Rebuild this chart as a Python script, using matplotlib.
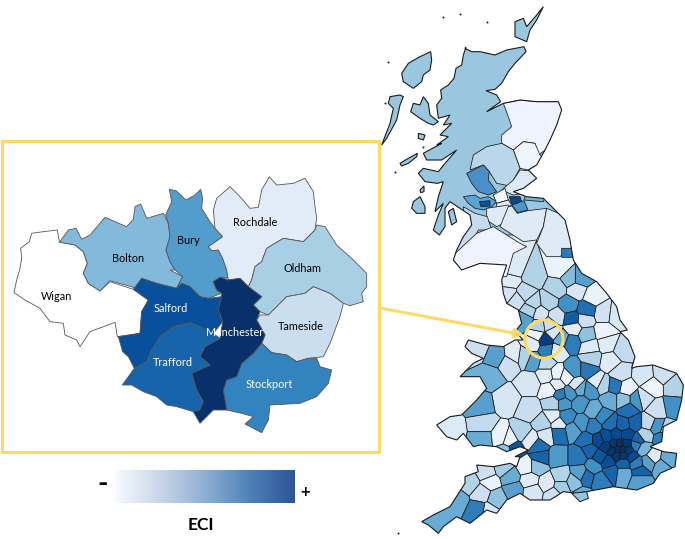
import numpy as np
import matplotlib
matplotlib.use("Agg")
import matplotlib.pyplot as plt
from matplotlib.patches import Polygon, Rectangle, Circle, FancyArrowPatch
from matplotlib.colors import LinearSegmentedColormap

plt.rcParams['font.family'] = ['Lato', 'DejaVu Sans']

def z1(p): return [(x/3, 130+y/3) for x, y in p]
def z2(p): return [(380+x/3, y/3) for x, y in p]
def z3(p): return [(390+x/3, 260+y/3) for x, y in p]
def zA(p): return [(380+x/3, 40+y/3) for x, y in p]
def zB(p): return [(400+x/3, 140+y/3) for x, y in p]

# ---------- Greater Manchester inset ----------
boroughs = ['Wigan','Bolton','Bury','Rochdale','Oldham','Tameside','Stockport','Manchester','Salford','Trafford']
borough_colors = ['#FFFFFF','#83B9DB','#529DCC','#E1ECF8','#A9CFE5','#CBDEF0','#3383BE','#08306B','#08509B','#1764AB']
borough_labels = [(57,297,'k'),(128,259,'k'),(188,241,'k'),(255,223,'k'),(303,268,'k'),(301,327,'k'),(269,385,'w'),(235,332,'w'),(171,309,'w'),(173,363,'w')]
borough_shapes = [
 [(178,335),(172,300),(130,305),(95,310),(88,335),(62,355),(65,385),(60,415),(50,450),(42,488),(75,510),(120,535),(150,575),(190,580),(195,615),(230,630),(240,650),(270,605),(345,577),(352,620),(420,610),(425,545),(445,510),(400,478),(330,455),(300,483),(265,460),(250,430),(262,400),(250,365),(225,345)],
 [(178,337),(205,300),(228,295),(245,328),(270,315),(315,262),(380,290),(400,268),(405,230),(422,222),(440,265),(490,250),(505,280),(510,320),(498,360),(510,395),(525,420),(510,420),(548,440),(530,475),(470,460),(425,445),(410,475),(330,452),(300,483),(265,460),(250,430),(262,400),(250,365),(225,345)],
 [(508,178),(528,182),(558,210),(585,195),(602,178),(608,205),(605,235),(630,275),(645,295),(668,320),(640,340),(625,350),(635,362),(655,360),(668,385),(680,420),(685,445),(660,442),(640,455),(650,480),(665,490),(625,505),(600,500),(570,470),(545,460),(530,475),(548,440),(525,420),(510,395),(498,360),(510,320),(505,280),(497,255),(515,215)],
 [(650,205),(690,170),(720,200),(750,235),(775,232),(785,180),(808,140),(830,165),(880,160),(915,145),(940,185),(945,230),(950,265),(945,300),(910,335),(850,325),(800,355),(785,395),(765,410),(755,450),(745,470),(720,445),(685,450),(680,420),(668,385),(655,360),(635,362),(625,350),(640,340),(668,320),(645,295),(640,240)],
 [(950,285),(975,290),(1010,345),(1060,390),(1100,430),(1100,470),(1085,490),(1090,515),(1050,527),(1030,520),(990,490),(940,470),(915,490),(860,500),(820,540),(805,555),(780,545),(760,525),(785,500),(745,470),(755,450),(765,410),(785,395),(800,355),(850,325),(910,335),(945,300)],
 [(780,555),(805,555),(820,540),(860,500),(915,490),(940,470),(990,490),(1030,520),(1020,560),(1005,600),(990,640),(970,680),(925,685),(890,695),(860,675),(815,668),(785,640),(795,615),(770,570)],
 [(785,640),(815,668),(860,675),(890,695),(925,685),(950,685),(960,710),(995,720),(985,760),(950,800),(900,820),(810,825),(805,870),(785,908),(760,895),(735,882),(760,860),(725,850),(680,840),(670,780),(680,750),(710,740),(725,700),(760,670)],
 [(640,455),(660,442),(685,450),(720,445),(745,470),(785,500),(760,525),(780,545),(770,570),(795,615),(785,640),(760,670),(725,700),(710,740),(680,750),(670,780),(680,840),(640,840),(600,880),(580,845),(610,815),(590,780),(575,730),(630,705),(600,680),(615,650),(660,625),(668,575),(655,540),(665,490),(650,480)],
 [(425,445),(470,460),(530,475),(545,460),(570,470),(600,500),(625,505),(665,500),(655,540),(668,575),(640,610),(600,590),(570,578),(520,590),(480,620),(455,660),(440,695),(403,715),(385,680),(368,665),(355,620),(420,610),(425,545),(445,510),(400,478)],
 [(570,578),(600,590),(640,610),(660,625),(615,650),(600,680),(630,705),(575,730),(590,780),(610,815),(600,840),(580,845),(530,830),(500,825),(470,800),(430,785),(395,765),(367,765),(403,715),(440,695),(455,660),(480,620),(520,590)],
]

# ---------- Great Britain ----------
coast_north = [(255,145),(275,155),(300,155),(345,165),(380,150),(432,140),(438,155),(405,190),(385,215),(365,250),(345,268),(318,272),(350,285),(362,305),(320,335),(370,310),(420,300),(470,305),(535,305),(545,330),(530,375),(510,420),(495,450),(470,495),(445,510),(470,535),(430,565),(400,575),(440,590),(490,595),(520,625),(555,660),(570,720)]
coast_south = [(550,0),(575,40),(620,65),(650,100),(680,140),(690,180),(712,210),(690,215),(715,240),(735,290),(725,325),(740,320),(790,315),(860,340),(880,375),(875,420),(860,480),(820,500),(815,545),(780,560),(820,575),(860,580),(855,620),(810,640),(790,670),(740,690),(670,680),(590,695),(560,700),(520,695),(480,720),(420,720),(390,700),(350,720),(320,760),(290,750),(240,790),(200,770),(160,800),(145,820),(115,795),(95,785),(130,765),(180,740),(225,670),(225,650),(265,635),(260,615),(310,620),(360,610),(380,620),(390,590),(375,590),(415,570),(390,560),(350,575),(320,560),(270,555),(250,560),(220,520),(200,540),(170,530),(140,495),(180,470),(215,465),(260,420),(290,385),(270,350),(210,350),(250,310),(280,295),(245,280),(225,260),(235,240),(290,255),(340,260),(375,240),(400,240),(375,215),(395,190),(385,150),(350,130),(340,100),(335,60),(350,15),(270,10),(215,30),(190,0)]
coast_sw_scotland = [(170,330),(190,290),(215,255),(210,225),(180,205),(150,185),(135,205),(135,260),(118,285),(100,270),(115,225),(130,190),(105,215),(115,170),(130,125),(112,130),(75,125),(55,100),(70,85),(115,95),(135,70),(170,30),(125,60),(80,60),(70,40),(125,10)]
coast_nw_scotland = [(170,315),(205,290),(180,285),(215,250),(190,255),(210,225),(175,235),(170,195),(185,175),(182,150),(205,135),(222,115),(228,85),(245,75),(250,45),(258,22)]
islands_zA = [
 [(152,35),(155,60),(150,90),(130,105),(125,125),(100,145),(70,125),(65,100),(85,70),(120,50)],
 [(60,165),(30,170),(25,190),(40,205),(30,250),(5,315),(20,295),(50,240),(60,195),(70,170)],
 [(130,170),(145,190),(150,225),(175,245),(160,255),(145,250),(120,235),(92,215),(100,190),(120,195)],
 [(115,280),(135,285),(130,300),(115,295)],
]
islands_zB = [
 [(0,70),(25,55),(52,40),(50,50),(25,70),(5,78)],
 [(40,185),(60,170),(75,200),(75,220),(50,220),(35,205)],
 [(145,215),(160,205),(170,245),(155,255)],
 [(60,150),(72,138),(72,155),(62,158)],
]
islands_z2 = [
 [(405,65),(430,55),(440,80),(470,45),(490,20),(470,60),(450,90),(440,125),(405,110)],
]
island_wight = [(545,700),(590,695),(595,715),(570,725)]
speck_x = [443, 388, 385, 423, 395, 487, 460, 398]
speck_y = [17, 62, 103, 147, 172, 22, 14, 533]

scot_colors = ['#EFF3FF','#F0F5FC','#BAD6EB','#4A90C8','#DCE9F6','#5BA3D0','#0B559F','#08468B','#73B2D8','#4A98C9','#F5F9FE','#DEEBF7','#DEEBF7','#C6DBEF','#EFF3FF','#DEEBF7','#DEEBF7','#2B7BBA']
scot_shapes = [
 [(370,310),(420,300),(470,305),(535,305),(560,330),(530,420),(495,450),(470,470),(465,430),(430,425),(400,450),(365,430),(365,405),(395,380),(385,350)],
 [(400,450),(430,425),(465,430),(480,465),(500,480),(445,510),(420,505)],
 [(280,465),(320,440),(365,430),(400,450),(420,505),(400,540),(400,560),(350,550),(328,515),(310,495),(270,510)],
 [(260,520),(310,495),(328,515),(325,540),(350,575),(325,585),(295,575),(275,550)],
 [(400,540),(420,510),(480,515),(490,540),(430,580),(400,585),(365,570)],
 [(250,590),(285,585),(300,595),(325,590),(350,605),(335,620),(310,630),(285,625),(265,610)],
 [(298,605),(330,602),(330,618),(303,620)],
 [(388,590),(420,590),(428,615),(395,612)],
 [(432,600),(440,575),(495,590),(490,605)],
 [(396,615),(432,602),(444,630),(412,638)],
 [(340,585),(375,565),(385,600),(350,610)],
 [(350,610),(385,600),(395,615),(385,620),(350,625)],
 [(320,625),(385,615),(390,660),(350,680),(320,660)],
 [(250,620),(285,640),(322,650),(335,690),(295,690),(280,720),(240,770),(215,745),(250,680)],
 [(215,770),(290,700),(340,680),(420,730),(440,740),(400,760),(380,830),(215,830)],
 [(385,620),(396,618),(412,640),(444,632),(500,625),(490,680),(470,720),(430,725),(360,680)],
 [(500,625),(560,650),(590,730),(540,770),(500,770),(470,730),(490,680)],
 [(545,745),(580,745),(585,772),(545,772)],
]

seed_x_y_v = [
 (370,25,.12),(430,50,.3),(510,25,.05),(540,55,.42),(572,55,.55),(360,65,.1),(355,100,.17),(405,100,.25),(500,85,.3),(430,130,.28),(380,120,.2),(560,90,.15),(610,110,.05),(640,160,.18),(680,165,.15),(475,125,.3),(535,135,.62),(590,150,.75),(545,178,.82),(585,180,.2),(450,160,.17),(405,180,.55),(420,150,.3),(500,170,.2),
 (640,215,.05),(700,270,.25),(650,250,.1),(590,225,.4),(550,205,.08),(600,260,.12),(545,245,.7),(500,275,.1),(515,235,.5),
 (465,240,.95),(470,270,.7),(440,225,.05),(490,215,.15),(445,200,.3),(480,195,.2),(428,250,.1),
 (430,300,.55),(405,290,.3),(470,310,.25),(260,265,.2),(320,290,.55),(370,285,.1),(300,350,.48),(355,310,.2),
 (350,420,.15),(420,370,.15),(270,435,.55),(280,495,.25),(180,510,.12),(280,535,.5),(420,450,.22),(395,520,.3),(330,530,.05),(360,540,.05),(375,565,.85),(345,575,.4),
 (500,340,.05),(470,345,.1),(530,350,.05),(550,330,.6),(595,330,.72),(605,295,.3),(660,305,.1),(690,340,.2),(620,365,.1),(560,375,.15),(500,375,.1),(480,390,.05),(510,405,.7),(540,400,.6),(570,385,.5),(600,390,.6),(640,375,.3),(675,378,.72),(710,385,.05),
 (785,380,.03),(760,345,.15),(820,340,.2),(855,380,.3),(850,440,.62),(800,450,.2),(760,415,.2),(775,490,.25),(830,510,.3),(800,500,.6),(815,535,.7),(740,420,.6),(700,420,.4),(715,450,.75),(660,420,.5),(640,470,.65),(610,450,.5),(570,430,.6),(520,430,.6),(490,430,.3),(490,470,.1),(505,490,.1),(460,490,.3),(470,525,.15),(530,470,.65),(550,510,.55),(505,520,.75),(575,490,.6),(610,500,.7),(660,490,.75),(700,495,.8),(735,490,.8),(765,525,.3),(745,540,.8),
 (590,540,.75),(625,540,.9),(650,530,.88),(680,525,.9),(710,525,.9),(740,555,.7),(650,560,.95),(672,552,.98),(690,552,1.0),(708,552,.98),(668,572,.98),(684,568,1.0),(698,568,1.0),(714,572,.97),(680,586,.98),(700,586,.97),(725,590,.9),(760,565,.45),(790,590,.1),(835,595,.5),(600,570,.8),(630,590,.85),(655,605,.88),(700,610,.8),(740,610,.7),(775,605,.55),(815,620,.5),(750,635,.8),(610,620,.62),(665,635,.8),(700,640,.5),(750,660,.55),(630,660,.7),(590,650,.75),(550,665,.4),(503,590,.58),(565,590,.72),(515,650,.3),(570,640,.55),(470,670,.1),(515,680,.35),(575,710,.5),(450,590,.8),(445,560,.75),(420,540,.1),(410,620,.05),(440,620,.4),(420,660,.1),(360,650,.5),(340,625,.35),(290,640,.2),(240,670,.3),(300,665,.05),(370,690,.55),(275,700,.2),(320,715,.4),(295,755,.15),(430,695,.15),(490,705,.2),(200,720,.5),(265,750,.7),
]

highland_color = '#9AC6DF'
legend_colors = ['#F8FAFE','#C9D6E8','#8FAFD3','#4F81B8','#2F5597']
frame_color = '#FFD966'
edge_dark = '#1a1a1a'
edge_grey = '#555555'

fig = plt.figure(figsize=(6.85, 5.39), dpi=100)
ax = fig.add_axes([0, 0, 1, 1])
ax.set_xlim(0, 685); ax.set_ylim(539, 0); ax.axis('off')

def clip_cell(poly, a, b, c):
    """keep a*x+b*y<=c"""
    out = []
    n = len(poly)
    for i in range(n):
        p, q = poly[i], poly[(i+1) % n]
        dp, dq = a*p[0]+b*p[1]-c, a*q[0]+b*q[1]-c
        if dp <= 0: out.append(p)
        if dp*dq < 0:
            t = dp/(dp-dq)
            out.append((p[0]+t*(q[0]-p[0]), p[1]+t*(q[1]-p[1])))
    return out

land_pts = z2(coast_north) + z3(coast_south) + zB(coast_sw_scotland) + zA(coast_nw_scotland)
land = Polygon(land_pts, closed=True, fc=highland_color, ec='none', zorder=2)
ax.add_patch(land)
blues = matplotlib.colormaps['Blues']

# England and Wales districts
pts = np.array(z3([(a, b) for a, b, _ in seed_x_y_v]))
vals = [v for _, _, v in seed_x_y_v]
box = [(380, 235), (685, 235), (685, 539), (380, 539)]
for i, (px, py) in enumerate(pts):
    cell = box
    for j, (qx, qy) in enumerate(pts):
        if i == j: continue
        cell = clip_cell(cell, qx-px, qy-py, (qx*qx+qy*qy-px*px-py*py)/2)
        if not cell: break
    if cell:
        c = Polygon(cell, closed=True, fc=blues(0.02+0.98*vals[i]), ec=edge_dark, lw=0.55, zorder=3)
        ax.add_patch(c); c.set_clip_path(land)

# Scottish areas
for s, col in zip(scot_shapes, scot_colors):
    c = Polygon(z2(s), closed=True, fc=col, ec=edge_dark, lw=0.55, zorder=4)
    ax.add_patch(c); c.set_clip_path(land)

ax.add_patch(Polygon(land_pts, closed=True, fc='none', ec=edge_dark, lw=0.8, zorder=5))
for conv, group in ((zA, islands_zA), (zB, islands_zB), (z2, islands_z2)):
    for s in group:
        ax.add_patch(Polygon(conv(s), closed=True, fc=highland_color, ec=edge_dark, lw=0.8, zorder=5))
ax.add_patch(Polygon(z3(island_wight), closed=True, fc=blues(.4), ec=edge_dark, lw=0.7, zorder=5))
ax.scatter(speck_x, speck_y, s=2, c=edge_dark, linewidths=0, zorder=5)

# Inset
for s, col in zip(borough_shapes, borough_colors):
    ax.add_patch(Polygon(z1(s), closed=True, fc=col, ec=edge_grey, lw=0.6, zorder=6))
for name, (x, y, tc) in zip(boroughs, borough_labels):
    ax.text(x, y, name, ha='center', va='center', fontsize=7.8, color=tc, zorder=8)
ax.add_patch(Rectangle((2, 141), 377, 311, fc='none', ec=frame_color, lw=2.2, zorder=7))

# Pointer
ax.add_patch(Circle((544, 339), 19, fc='none', ec=frame_color, lw=2.2, zorder=7))
ax.add_patch(FancyArrowPatch((380, 308), (524, 335), arrowstyle='-|>', mutation_scale=13,
                             color=frame_color, lw=2.2, shrinkA=0, shrinkB=0, zorder=7))

# Colour bar
cmap = LinearSegmentedColormap.from_list('eci', legend_colors)
ax.imshow(np.linspace(0, 1, 256)[None, :], cmap=cmap, extent=(115, 295, 503, 470), aspect='auto', zorder=3)
ax.set_xlim(0, 685); ax.set_ylim(539, 0)
ax.text(103, 484, '-', ha='center', va='center', fontsize=20, fontweight='bold')
ax.text(305, 492, '+', ha='center', va='center', fontsize=12, fontweight='bold')
ax.text(201, 525, 'ECI', ha='center', va='center', fontsize=12.5, fontweight='bold')

fig.savefig('out.png', dpi=100)
